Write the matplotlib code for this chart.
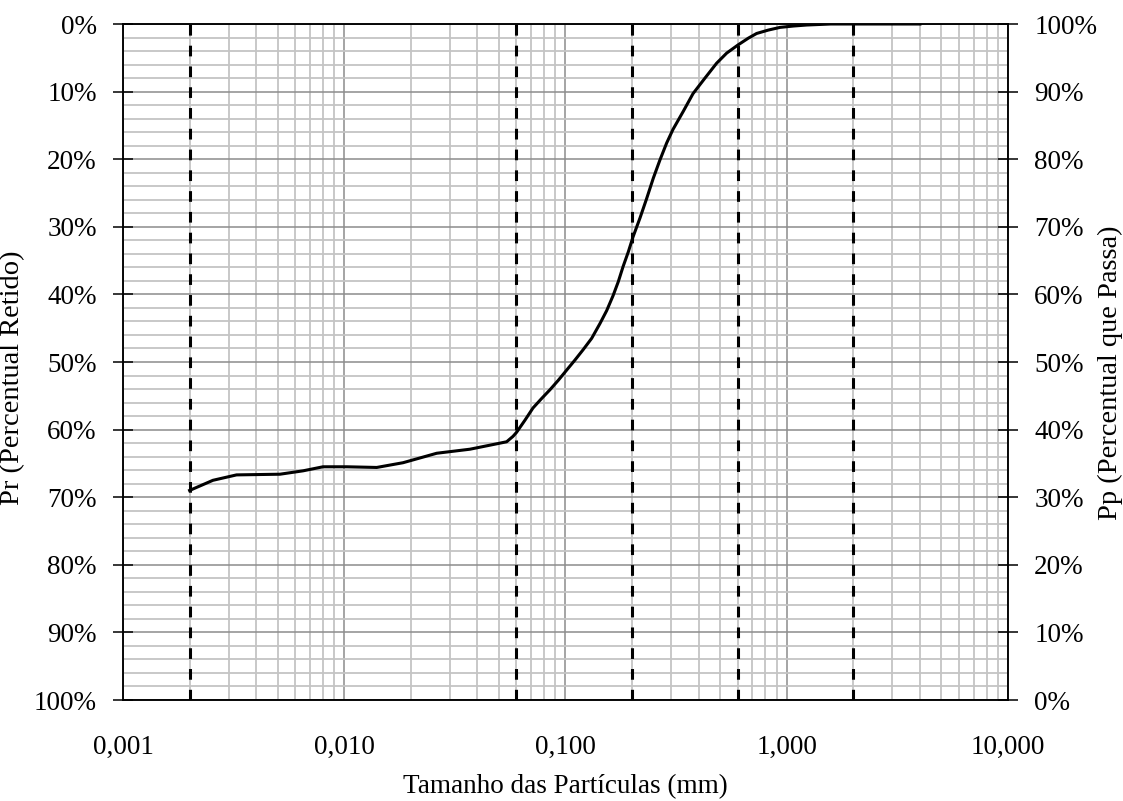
"""
Curva granulométrica: Pr (percentual retido) x tamanho das partículas
"""

import numpy as np
import matplotlib
matplotlib.use("Agg")
import matplotlib.pyplot as plt
from matplotlib.ticker import LogLocator, NullFormatter, FixedLocator

plt.rcParams['font.family'] = ['Liberation Serif', 'DejaVu Serif']

# dados
diametro_mm = [0.002, 0.00255, 0.00326, 0.00512, 0.00651, 0.00802, 0.01026,
               0.01402, 0.01843, 0.02617, 0.0370, 0.0489, 0.0542, 0.0579,
               0.0601, 0.0656, 0.0713, 0.078, 0.0851, 0.0928, 0.1012, 0.1104,
               0.120, 0.1313, 0.1432, 0.1535, 0.164, 0.1733, 0.182, 0.1923,
               0.2019, 0.2171, 0.2328, 0.2494, 0.2673, 0.2866, 0.306, 0.3409,
               0.377, 0.427, 0.482, 0.5354, 0.602, 0.670, 0.731, 0.825,
               0.933, 1.071, 1.231, 1.58, 4.0]
retido_pct = [69.0, 67.5, 66.7, 66.6, 66.1, 65.5, 65.5,
              65.6, 64.9, 63.5, 62.9, 62.1, 61.8, 61.0,
              60.4, 58.6, 56.8, 55.4, 54.1, 52.7, 51.2, 49.7,
              48.2, 46.5, 44.3, 42.4, 40.2, 38.1, 35.9, 33.7,
              31.5, 28.7, 25.8, 22.8, 20.1, 17.6, 15.6, 12.9,
              10.3, 8.0, 5.8, 4.3, 3.1, 2.1, 1.4, 0.9,
              0.5, 0.3, 0.15, 0.0, 0.0]

limites_mm = [0.002, 0.06, 0.2, 0.6, 2.0]
xticks = [0.001, 0.01, 0.1, 1, 10]
xticklabels = ['0,001', '0,010', '0,100', '1,000', '10,000']
yticks = list(range(0, 101, 10))

fig = plt.figure(figsize=(11.23, 8.01), dpi=100)
ax = fig.add_axes([123 / 1123, 101 / 801, 885 / 1123, 676 / 801])

ax.set_xscale('log')
ax.set_xlim(0.001, 10)
ax.set_ylim(100, 0)

# grade
ax.xaxis.set_minor_locator(LogLocator(base=10, subs=np.arange(2, 10)))
ax.xaxis.set_minor_formatter(NullFormatter())
ax.yaxis.set_minor_locator(FixedLocator(list(range(0, 101, 2))))
ax.grid(which='minor', color='#c4c4c4', linewidth=1.3, zorder=0)
ax.grid(which='major', color='#8c8c8c', linewidth=1.1, zorder=0)
ax.set_axisbelow(True)

for xv in limites_mm:
    ax.axvline(xv, color='black', linewidth=2.2, dashes=(3.5, 3.3), zorder=3)

ax.plot(diametro_mm, retido_pct, color='black', linewidth=2.2, zorder=4,
        solid_joinstyle='round')

ax.set_xticks(xticks)
ax.set_xticklabels(xticklabels)
ax.set_yticks(yticks)
ax.set_yticklabels([f'{v}%' for v in yticks])
ax.tick_params(axis='x', which='both', length=0, pad=25, labelsize=19.5)
ax.tick_params(axis='y', which='major', direction='inout', length=13.7,
               width=1.1, pad=12, labelsize=19.5)
ax.tick_params(axis='y', which='minor', length=0)

for s in ax.spines.values():
    s.set_linewidth(1.1)
    s.set_color('black')

ax.set_xlabel('Tamanho das Partículas (mm)', fontsize=19.5, labelpad=10)
ax.set_ylabel('Pr (Percentual Retido)', fontsize=20.5)
ax.yaxis.set_label_coords(-0.111, 0.476)

ax2 = ax.twinx()
ax2.set_ylim(0, 100)
ax2.set_yticks(yticks)
ax2.set_yticklabels([f'{v}%' for v in yticks])
ax2.tick_params(axis='y', direction='inout', length=13.7, width=1.1,
                pad=12, labelsize=19.5)
ax2.set_ylabel('Pp (Percentual que Passa)', fontsize=20.5, rotation=90)
ax2.yaxis.set_label_coords(1.102, 0.484)
for s in ax2.spines.values():
    s.set_linewidth(1.1)
    s.set_color('black')

fig.savefig('out.png', dpi=100)
